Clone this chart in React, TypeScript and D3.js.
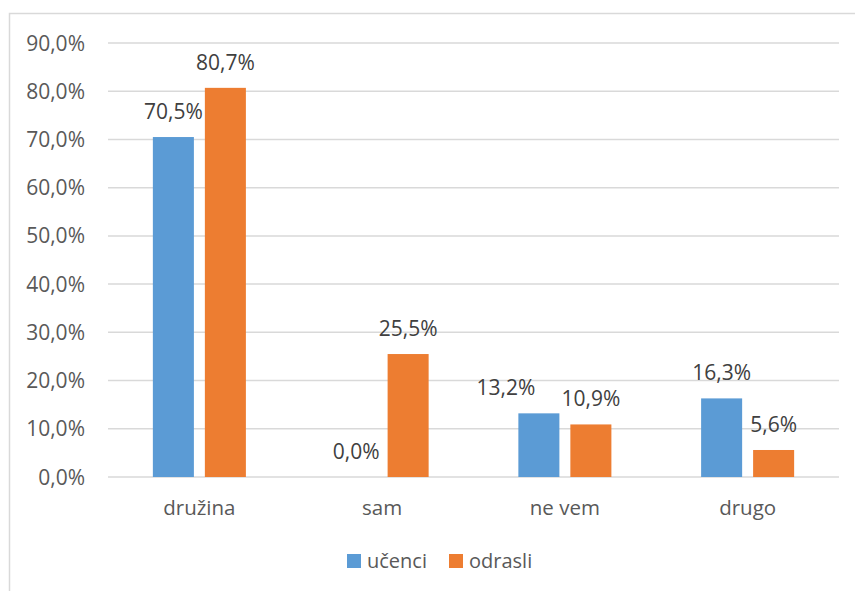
import React, { useEffect, useRef } from 'react';
import * as d3 from 'd3';

const categories = ['družina', 'sam', 'ne vem', 'drugo'];
const seriesNames = ['učenci', 'odrasli'];
const ucenci = [70.5, 0.0, 13.2, 16.3];
const odrasli = [80.7, 25.5, 10.9, 5.6];
const yTicks = [0, 10, 20, 30, 40, 50, 60, 70, 80, 90];

const colors = ['#5B9BD5', '#ED7D31'];
const fmt = (v: number) => v.toFixed(1).replace('.', ',') + '%';

const App: React.FC = () => {
  const svgRef = useRef<SVGSVGElement>(null);

  useEffect(() => {
    if (!svgRef.current) return;
    const svg = d3.select(svgRef.current);
    svg.selectAll('*').remove();

    const W = 855;
    const H = 591;
    const left = 108;
    const right = 839;
    const top = 43;
    const bottom = 477;
    const font = '"Open Sans", "Noto Sans", sans-serif';
    const textColor = '#595959';

    // chart border
    svg.append('rect')
      .attr('x', 9.5).attr('y', 13.5)
      .attr('width', W + 10).attr('height', H + 10)
      .attr('fill', '#fff')
      .attr('stroke', '#D9D9D9')
      .attr('stroke-width', 1.5);

    const x = d3.scaleBand().domain(categories).range([left, right]);
    const y = d3.scaleLinear().domain([0, 90]).range([bottom, top]);

    const barW = x.bandwidth() * 0.2245;
    const gap = x.bandwidth() * 0.06;
    const x1 = d3.scaleOrdinal<string, number>()
      .domain(seriesNames)
      .range([-gap / 2 - barW, gap / 2]);

    // gridlines
    svg.append('g')
      .selectAll('line')
      .data(yTicks)
      .enter()
      .append('line')
      .attr('x1', left).attr('x2', right)
      .attr('y1', d => y(d)).attr('y2', d => y(d))
      .attr('stroke', '#D9D9D9')
      .attr('stroke-width', 1.5);

    // y labels
    svg.append('g')
      .selectAll('text')
      .data(yTicks)
      .enter()
      .append('text')
      .attr('x', 85)
      .attr('y', d => y(d))
      .attr('dy', '0.36em')
      .attr('text-anchor', 'end')
      .style('font-family', font)
      .style('font-size', '21px')
      .style('fill', textColor)
      .text(d => fmt(d));

    const series = [ucenci, odrasli];
    series.forEach((vals, si) => {
      const name = seriesNames[si];
      const g = svg.append('g');
      g.selectAll('rect')
        .data(vals)
        .enter()
        .append('rect')
        .attr('x', (d, i) => x(categories[i])! + x.bandwidth() / 2 + x1(name))
        .attr('y', d => y(d))
        .attr('width', barW)
        .attr('height', d => y(0) - y(d))
        .attr('fill', colors[si]);
      g.selectAll('text')
        .data(vals)
        .enter()
        .append('text')
        .attr('x', (d, i) => {
          const cx = x(categories[i])! + x.bandwidth() / 2 + x1(name) + barW / 2;
          // Excel nudged the 'ne vem' učenci label left to avoid overlap
          return si === 0 && categories[i] === 'ne vem' ? cx - 33 : cx;
        })
        .attr('y', d => y(d) - 18)
        .attr('text-anchor', 'middle')
        .style('font-family', font)
        .style('font-size', '21px')
        .style('fill', '#404040')
        .text(d => fmt(d));
    });

    // category labels
    svg.append('g')
      .selectAll('text')
      .data(categories)
      .enter()
      .append('text')
      .attr('x', d => x(d)! + x.bandwidth() / 2)
      .attr('y', 515)
      .attr('text-anchor', 'middle')
      .style('font-family', font)
      .style('font-size', '20.5px')
      .style('fill', textColor)
      .text(d => d);

    // legend
    const legendX = [347, 449];
    seriesNames.forEach((name, i) => {
      svg.append('rect')
        .attr('x', legendX[i]).attr('y', 554)
        .attr('width', 14).attr('height', 14)
        .attr('fill', colors[i]);
      svg.append('text')
        .attr('x', legendX[i] + 20)
        .attr('y', 568)
        .style('font-family', font)
        .style('font-size', '20px')
        .style('fill', textColor)
        .text(name);
    });
  }, []);

  return (
    <svg
      ref={svgRef}
      width={855}
      height={591}
      style={{ position: 'absolute', left: 0, top: 0, background: '#fff' }}
    />
  );
};

export default App;
